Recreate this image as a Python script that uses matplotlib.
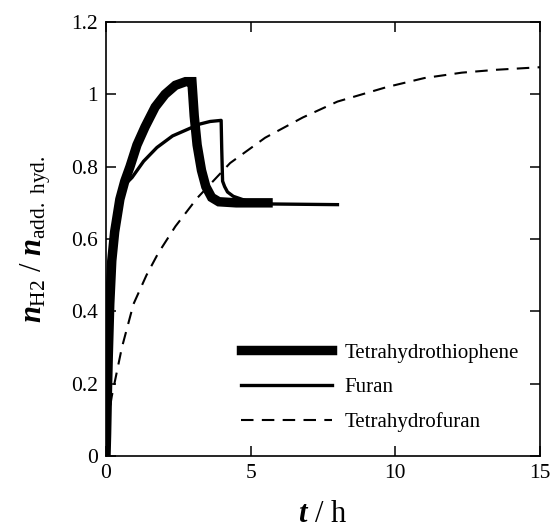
import matplotlib
matplotlib.use("Agg")
import matplotlib.pyplot as plt

plt.rcParams['font.family'] = ['Liberation Serif', 'DejaVu Serif']
plt.rcParams['mathtext.fontset'] = 'custom'
plt.rcParams['mathtext.rm'] = 'Liberation Serif'
plt.rcParams['mathtext.it'] = 'Liberation Serif:italic:bold'
plt.rcParams['mathtext.bf'] = 'Liberation Serif:bold'

# Tetrahydrothiophene
tht_t = [0.0, 0.02, 0.05, 0.08, 0.13, 0.2, 0.3, 0.48, 0.65, 0.83, 1.07, 1.35, 1.7, 2.04,
         2.4, 2.75, 2.97, 3.0, 3.05, 3.15, 3.3, 3.45, 3.65, 3.9, 4.5, 5.6]
tht_y = [0.0, 0.06, 0.18, 0.28, 0.42, 0.54, 0.62, 0.71, 0.76, 0.80, 0.86, 0.91, 0.965, 1.0,
         1.025, 1.035, 1.035, 1.0, 0.94, 0.86, 0.79, 0.745, 0.715, 0.703, 0.70, 0.70]

# Furan
fur_t = [0.0, 0.02, 0.05, 0.08, 0.13, 0.2, 0.3, 0.48, 0.65, 0.9, 1.3, 1.76, 2.3, 2.9,
         3.25, 3.6, 3.98, 4.0, 4.03, 4.1, 4.2, 4.4, 4.87, 5.5, 8.0]
fur_y = [0.0, 0.06, 0.18, 0.28, 0.42, 0.54, 0.62, 0.71, 0.75, 0.77, 0.815, 0.853, 0.885, 0.906,
         0.918, 0.925, 0.928, 0.85, 0.76, 0.745, 0.73, 0.718, 0.705, 0.697, 0.695]

# Tetrahydrofuran
thf_t = [0.15, 0.2, 0.55, 0.95, 1.4, 1.8, 2.4, 3.15, 4.29, 5.5, 6.8, 8.0, 9.7, 11.0, 12.3, 13.5, 15.0]
thf_y = [0.14, 0.165, 0.30, 0.42, 0.50, 0.56, 0.635, 0.713, 0.81, 0.88, 0.936, 0.98, 1.02, 1.045, 1.06, 1.068, 1.075]

xticks = [0, 5, 10, 15]
yticks = [0, 0.2, 0.4, 0.6, 0.8, 1.0, 1.2]
ytick_labels = ["0", "0.2", "0.4", "0.6", "0.8", "1", "1.2"]

fig = plt.figure(figsize=(5.5, 5.28), dpi=100)
ax = fig.add_axes([0.1927, 0.1364, 0.7891, 0.8219])

ax.plot(tht_t, tht_y, color='black', lw=6.8, solid_joinstyle='miter', label='Tetrahydrothiophene')
ax.plot(fur_t, fur_y, color='black', lw=2.4, label='Furan')
ax.plot(thf_t, thf_y, color='black', lw=1.5, dashes=(6, 4), label='Tetrahydrofuran')

ax.set_xlim(0, 15)
ax.set_ylim(0, 1.2)
ax.set_xticks(xticks)
ax.set_xticklabels([str(v) for v in xticks])
ax.set_yticks(yticks)
ax.set_yticklabels(ytick_labels)
ax.tick_params(direction='in', length=7, width=1.1, top=True, right=True,
               labelsize=15.5, pad=6)
for s in ax.spines.values():
    s.set_linewidth(1.2)

ax.set_xlabel(r'$t$ / h', fontsize=22, labelpad=12)
ax.set_ylabel(r'$n_{\mathrm{H2}}$ / $n_{\mathrm{add.\ hyd.}}$', fontsize=22, labelpad=13)

leg = ax.legend(loc='lower right', bbox_to_anchor=(0.995, 0.012), frameon=False,
                fontsize=15, handlelength=4.4, handletextpad=0.6, labelspacing=0.72)

fig.savefig('out.png', dpi=100)
